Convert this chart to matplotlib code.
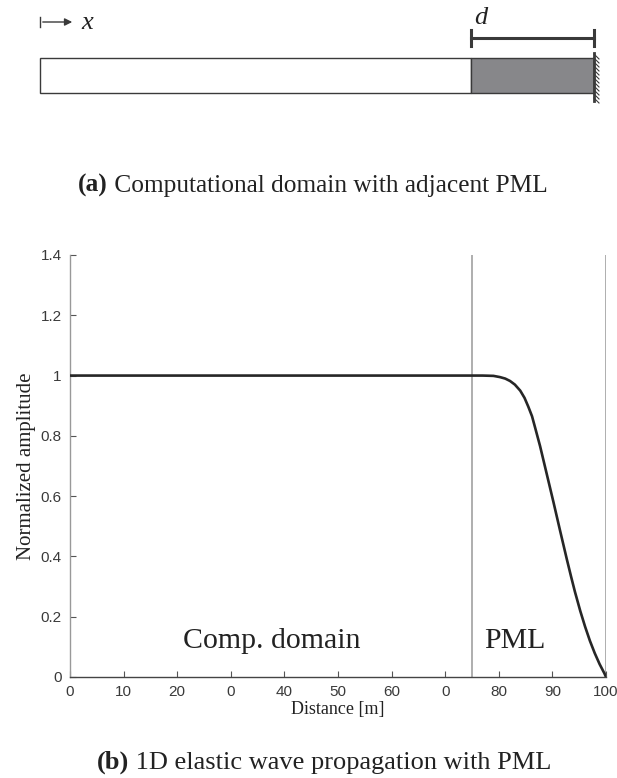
import matplotlib.pyplot as plt
from matplotlib.patches import Rectangle

# amplitude curve
distance = [0, 77, 79, 80.2, 81.2, 82.1, 83.0, 84.0, 84.8, 85.5, 86.2, 86.75, 87.7,
            88.75, 90.2, 91.4, 92.7, 93.5, 94.2, 95.2, 96.1, 97.0, 97.9, 98.8, 99.7, 100]
amplitude = [1, 1, 0.999, 0.995, 0.990, 0.982, 0.970, 0.950, 0.926, 0.897, 0.865,
             0.829, 0.766, 0.688, 0.580, 0.488, 0.390, 0.332, 0.283, 0.219, 0.167,
             0.120, 0.079, 0.043, 0.012, 0]

pml_start = 75
pml_end = 100
xticks = [0, 10, 20, 30, 40, 50, 60, 70, 80, 90, 100]
xtick_labels = ['0', '10', '20', '0', '40', '50', '60', '0', '80', '90', '100']
yticks = [0, 0.2, 0.4, 0.6, 0.8, 1.0, 1.2, 1.4]
ytick_labels = ['0', '0.2', '0.4', '0.6', '0.8', '1', '1.2', '1.4']

serif = ['Liberation Serif', 'DejaVu Serif']
sans = ['Liberation Sans', 'DejaVu Sans']
ink = '#222222'

fig = plt.figure(figsize=(6.17, 7.78), dpi=100)

# ---- (a) schematic, drawn in pixel coordinates on an overlay axes
sk = fig.add_axes([0, 0, 1, 1])
sk.set_xlim(0, 617)
sk.set_ylim(778, 0)
sk.axis('off')

bar_left, bar_split, bar_right = 40, 471, 594
bar_top, bar_bot = 58, 93
edge = '#3a3a3a'
sk.add_patch(Rectangle((bar_left, bar_top), bar_split - bar_left, bar_bot - bar_top,
                       facecolor='white', edgecolor=edge, lw=1.0))
sk.add_patch(Rectangle((bar_split, bar_top), bar_right - bar_split, bar_bot - bar_top,
                       facecolor='#87878a', edgecolor=edge, lw=1.0))
# fixed wall with hatching
sk.plot([bar_right, bar_right], [53, 101], color=edge, lw=2.0)
for yy in range(54, 100, 4):
    sk.plot([bar_right, bar_right + 5], [yy, yy + 5], color=edge, lw=0.8)

# d dimension bar
sk.plot([bar_split, bar_right], [38, 38], color=edge, lw=2.2)
sk.plot([bar_split, bar_split], [30, 46], color=edge, lw=2.2)
sk.plot([bar_right, bar_right], [30, 46], color=edge, lw=2.2)
sk.text(481, 18, 'd', family=serif, style='italic', fontsize=19, ha='center',
        va='center', color=ink)

# x direction arrow
sk.plot([40, 40], [17, 27], color=edge, lw=1.0)
sk.annotate('', xy=(75, 22), xytext=(40, 22),
            arrowprops=dict(arrowstyle='-|>', color=edge, lw=1.0, mutation_scale=11))
sk.text(87, 23, 'x', family=serif, style='italic', fontsize=19, ha='center',
        va='center', color=ink)


def caption(x0, y0, tag, rest, size):
    # bold tag followed by plain text
    t = fig.text(x0 / 617, 1 - y0 / 778, tag, family=serif, weight='bold',
                 fontsize=size, ha='left', va='baseline', color=ink)
    ann = plt.annotate(' ' + rest, xy=(1, 0), xycoords=t, va='bottom', ha='left',
                       family=serif, fontsize=size, color=ink)
    ann.set_annotation_clip(False)


caption(78, 192, '(a)', 'Computational domain with adjacent PML', 18.3)
caption(97, 769, '(b)', '1D elastic wave propagation with PML', 19)

# ---- (b) amplitude plot
ax = fig.add_axes([70 / 617, 1 - 677 / 778, 536 / 617, (677 - 255) / 778])
ax.plot(distance, amplitude, color='#262626', lw=1.9, zorder=3)
ax.axvline(pml_start, color='#999999', lw=1.1)
ax.axvline(pml_end, color='#999999', lw=1.1)

ax.set_xlim(0, 100)
ax.set_ylim(0, 1.4)
ax.set_xticks(xticks)
ax.set_xticklabels(xtick_labels)
ax.set_yticks(yticks)
ax.set_yticklabels(ytick_labels)
ax.tick_params(direction='in', length=4, width=0.8, colors='#555555',
               labelcolor='#3a3a3a', labelsize=11, pad=6)
for lab in ax.get_xticklabels() + ax.get_yticklabels():
    lab.set_family(sans)

ax.spines['top'].set_visible(False)
ax.spines['right'].set_visible(False)
ax.spines['left'].set_color('#999999')
ax.spines['bottom'].set_color('#444444')
ax.spines['left'].set_linewidth(1.0)
ax.spines['bottom'].set_linewidth(1.0)

ax.set_xlabel('Distance [m]', family=serif, fontsize=13, color=ink, labelpad=1)
ax.set_ylabel('Normalized amplitude', family=serif, fontsize=15, color=ink,
              labelpad=3)

ax.text(37.7, 0.12, 'Comp. domain', family=serif, fontsize=21.5, ha='center',
        va='center', color=ink)
ax.text(83.0, 0.12, 'PML', family=serif, fontsize=21.5, ha='center', va='center',
        color=ink)

fig.savefig('out.png', dpi=100)
